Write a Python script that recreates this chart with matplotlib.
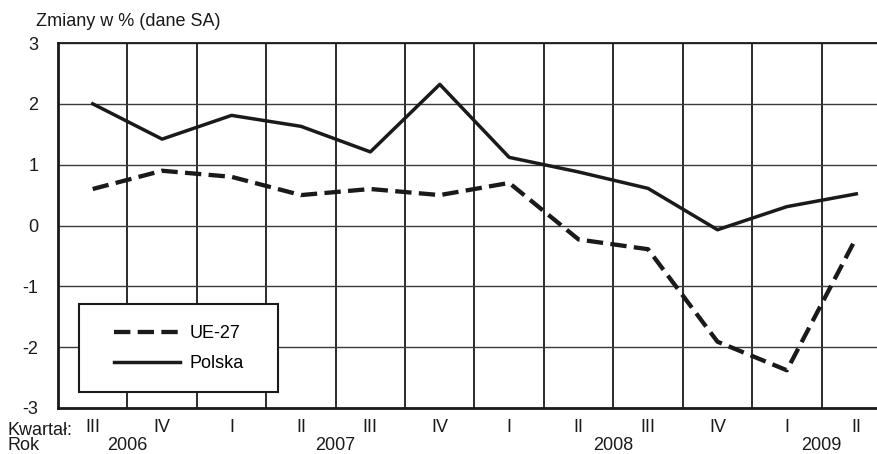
import matplotlib.pyplot as plt
import matplotlib.ticker as ticker
from matplotlib.patches import Rectangle
from matplotlib.transforms import blended_transform_factory
import numpy as np

plt.rcParams['font.family'] = ['Liberation Sans', 'DejaVu Sans']
plt.rcParams['axes.unicode_minus'] = False

kwartaly = ["III", "IV", "I", "II", "III", "IV", "I", "II", "III", "IV", "I", "II"]
lata = ["2006", "2007", "2008", "2009"]
lata_x = [0.5, 3.5, 7.5, 10.5]
ue27 = [0.6, 0.9, 0.8, 0.5, 0.6, 0.5, 0.7, -0.23, -0.39, -1.91, -2.38, -0.2]
polska = [2.0, 1.42, 1.81, 1.63, 1.21, 2.32, 1.12, 0.88, 0.61, -0.07, 0.31, 0.52]

W, H = 878, 454
FS = 13
INK = "#1a1a1a"
fig = plt.figure(figsize=(W / 100, H / 100), dpi=100)
ax_l, ax_r, ax_t, ax_b = 58, 891, 43, 408
ax = fig.add_axes([ax_l / W, (H - ax_b) / H, (ax_r - ax_l) / W, (ax_b - ax_t) / H])

x = np.arange(len(kwartaly))
ax.plot(x, ue27, color=INK, linewidth=3.1, linestyle=(0, (3.8, 1.7)), label="UE-27")
ax.plot(x, polska, color=INK, linewidth=2.5, label="Polska")

ax.set_xlim(-0.5, len(kwartaly) - 0.5)
ax.set_ylim(-3, 3)
ax.yaxis.set_major_locator(ticker.MultipleLocator(1))
ax.set_xticks(x)
ax.set_xticklabels(kwartaly)
ax.xaxis.set_minor_locator(ticker.FixedLocator(np.arange(0.5, len(kwartaly) - 0.5, 1)))
ax.tick_params(which="both", length=0, labelsize=FS, colors=INK)
ax.tick_params(axis="x", pad=8)
ax.tick_params(axis="y", pad=14)

ax.grid(which="minor", axis="x", color=INK, linewidth=1.3)
ax.grid(which="major", axis="y", color="#3a3a3a", linewidth=1.0)
ax.set_axisbelow(True)

for side in ["left", "bottom"]:
    ax.spines[side].set_linewidth(2.0)
    ax.spines[side].set_color(INK)
ax.spines["top"].set_linewidth(1.3)
ax.spines["top"].set_color(INK)
ax.spines["right"].set_visible(False)

aw, ah = ax_r - ax_l, ax_b - ax_t
tr = blended_transform_factory(ax.transData, ax.transAxes)
for lx, rok in zip(lata_x, lata):
    ax.text(lx, (ax_b - 449.5) / ah, rok, transform=tr, ha="center", va="baseline",
            fontsize=FS, color=INK)

# ostatnia linia (Rok) wyrównana do linii bazowej
fig.text(8 / W, 1 - 449.5 / H, "Kwartał:\nRok", ha="left", va="baseline",
         fontsize=FS, color=INK, linespacing=0.83)
fig.text(36 / W, 1 - 22 / H, "Zmiany w % (dane SA)", ha="left", va="center", fontsize=FS, color=INK)

box = Rectangle(((79 - ax_l) / aw, (ax_b - 392) / ah), 199 / aw, 88 / ah,
                transform=ax.transAxes, facecolor="white", edgecolor=INK,
                linewidth=1.5, zorder=4)
ax.add_patch(box)
leg = ax.legend(loc="upper left", bbox_to_anchor=((114 - ax_l) / aw, (ax_b - 325) / ah),
                fontsize=FS, frameon=False, handlelength=3.65, borderpad=0,
                labelspacing=0.74, handletextpad=0.55, borderaxespad=0)
leg.set_zorder(5)

plt.savefig("out.png", dpi=100)
